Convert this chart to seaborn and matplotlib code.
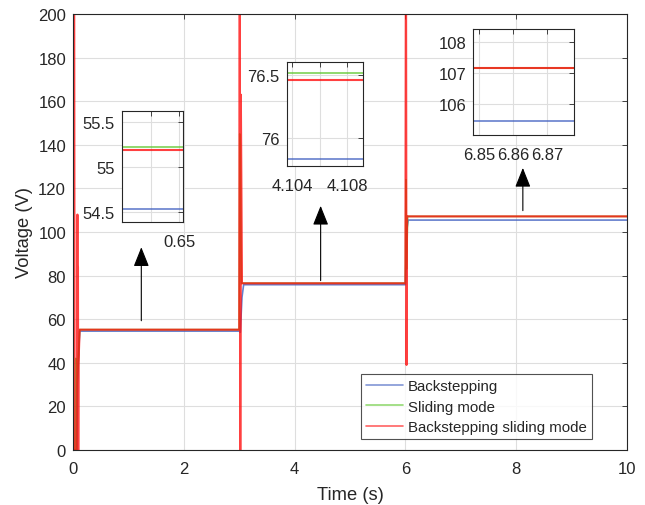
import numpy as np
import pandas as pd
import matplotlib
matplotlib.use("Agg")
import matplotlib.pyplot as plt
import seaborn as sns

# ---------------- data ----------------
series_names = ["Backstepping", "Sliding mode", "Backstepping sliding mode"]

t_bs = [0, 0.02, 0.07, 0.08, 0.12, 3.0, 3.02, 3.05, 3.08, 6.0, 6.02, 6.05, 10]
v_bs = [0, 0, 0, 30, 54.53, 54.53, 54.0, 70, 75.83, 75.83, 100, 105.47, 105.47]

t_sm = [0, 0.04, 0.05, 0.06, 0.07, 0.12, 3.0, 3.01, 3.02, 3.04, 6.0, 6.01, 6.02, 6.04, 10]
v_sm = [0, 0, 42, 0, 30, 55.22, 55.22, 145, 140, 76.52, 76.52, 124, 83, 107.16, 107.16]

t_bsm = [0, 0.01, 0.02, 0.03, 0.07, 0.08, 0.085, 0.09, 0.095, 0.10, 0.12,
         3.0, 3.01, 3.02, 3.03, 3.05, 6.0, 6.01, 6.02, 6.03, 10]
v_bsm = [0, 260, 260, 0, 0, 108, 40, 84, 0, 40, 55.19,
         55.19, 260, 0, 163, 76.46, 76.46, 260, 39, 107.16, 107.16]

series_t = [t_bs, t_sm, t_bsm]
series_v = [v_bs, v_sm, v_bsm]
colors = ["#3f5fc0", "#5cc62a", "#ff1010"]
alphas = [0.8, 0.8, 0.8]

main_xticks = [0, 2, 4, 6, 8, 10]
main_yticks = [0, 20, 40, 60, 80, 100, 120, 140, 160, 180, 200]

# insets: (xlim, ylim, xticks, xticklabels, yticks, yticklabels)
inset1_xlim = (0.6298, 0.6513); inset1_ylim = (54.39, 55.62)
inset1_xticks = [0.64, 0.65]; inset1_xticklabels = ["", "0.65"]
inset1_yticks = [54.5, 55, 55.5]; inset1_yticklabels = ["54.5", "55", "55.5"]

inset2_xlim = (4.1036, 4.1091); inset2_ylim = (75.77, 76.61)
inset2_xticks = [4.104, 4.106, 4.108]; inset2_xticklabels = ["4.104", "", "4.108"]
inset2_yticks = [76, 76.5]; inset2_yticklabels = ["76", "76.5"]

inset3_xlim = (6.8484, 6.878); inset3_ylim = (105.0, 108.43)
inset3_xticks = [6.85, 6.86, 6.87]; inset3_xticklabels = ["6.85", "6.86", "6.87"]
inset3_yticks = [106, 107, 108]; inset3_yticklabels = ["106", "107", "108"]

# arrows (tail t, tail V, head V)
arrow_t = [1.233, 4.47, 8.12]
arrow_tail = [59.3, 77.7, 109.8]
arrow_head = [93.0, 112.0, 129.4]

# ---------------- style ----------------
sns.set_theme(style="white")
plt.rcParams["font.family"] = ["Liberation Sans", "DejaVu Sans"]
plt.rcParams["font.size"] = 12
txt = "#262626"
plt.rcParams["text.color"] = txt
plt.rcParams["axes.labelcolor"] = txt
plt.rcParams["xtick.color"] = txt
plt.rcParams["ytick.color"] = txt

fig = plt.figure(figsize=(6.45, 5.06), dpi=100)


def style_axes(ax, pad_x=8, pad_y=5):
    ax.grid(True, color="#dedede", lw=0.8)
    ax.set_axisbelow(True)
    for s in ax.spines.values():
        s.set_color("#262626")
        s.set_linewidth(0.8)
        s.set_visible(True)
    ax.tick_params(axis="both", direction="in", top=True, right=True,
                   length=3.5, width=0.6, labelsize=12, color="#262626")
    ax.tick_params(axis="x", pad=pad_x)
    ax.tick_params(axis="y", pad=pad_y)


def draw_series(ax, legend=False):
    for name, t, v, c, a in zip(series_names, series_t, series_v, colors, alphas):
        df = pd.DataFrame({"t": t, "v": v})
        lw = 1.2 if name != series_names[2] else 1.5
        sns.lineplot(data=df, x="t", y="v", ax=ax, color=c, alpha=a,
                     lw=lw, estimator=None, sort=False,
                     label=name if legend else None, legend=False)


ax = fig.add_axes([73 / 645, 1 - 451 / 506, 554 / 645, 436 / 506])
draw_series(ax, legend=True)
ax.set_xlim(0, 10)
ax.set_ylim(0, 200)
ax.set_xticks(main_xticks)
ax.set_yticks(main_yticks)
style_axes(ax)
ax.set_xlabel("Time (s)", fontsize=13.2, labelpad=7)
ax.set_ylabel("Voltage (V)", fontsize=13.2, labelpad=4)

leg = ax.legend(loc="lower left", bbox_to_anchor=(0.52, 0.025), frameon=True,
                fancybox=False, edgecolor="#262626", fontsize=10.8,
                handlelength=2.45, labelspacing=0.42, borderpad=0.35,
                handletextpad=0.3, borderaxespad=0)
leg.get_frame().set_linewidth(0.8)
for lh in leg.get_lines():
    lh.set_linewidth(1.2)
    lh.set_alpha(0.65)

for at, tail, head in zip(arrow_t, arrow_tail, arrow_head):
    ax.annotate("", xy=(at, head), xytext=(at, tail),
                arrowprops=dict(arrowstyle="-|>,head_length=1.0,head_width=0.4",
                                color="black", lw=0.8, shrinkA=0, shrinkB=0))

insets = [
    ([122 / 645, 1 - 223 / 506, 61 / 645, 111 / 506], inset1_xlim, inset1_ylim,
     inset1_xticks, inset1_xticklabels, inset1_yticks, inset1_yticklabels),
    ([286.7 / 645, 1 - 167.3 / 506, 76 / 645, 104.6 / 506], inset2_xlim, inset2_ylim,
     inset2_xticks, inset2_xticklabels, inset2_yticks, inset2_yticklabels),
    ([473.3 / 645, 1 - 136.3 / 506, 101 / 645, 106.3 / 506], inset3_xlim, inset3_ylim,
     inset3_xticks, inset3_xticklabels, inset3_yticks, inset3_yticklabels),
]
for rect, xl, yl, xt, xtl, yt, ytl in insets:
    ia = fig.add_axes(rect)
    ia.set_facecolor("white")
    draw_series(ia)
    ia.set_xlim(*xl)
    ia.set_ylim(*yl)
    ia.set_xticks(xt)
    ia.set_xticklabels(xtl)
    ia.set_yticks(yt)
    ia.set_yticklabels(ytl)
    ia.set_xlabel("")
    ia.set_ylabel("")
    style_axes(ia, pad_x=8.5, pad_y=5)

fig.savefig("out.png", dpi=100)
